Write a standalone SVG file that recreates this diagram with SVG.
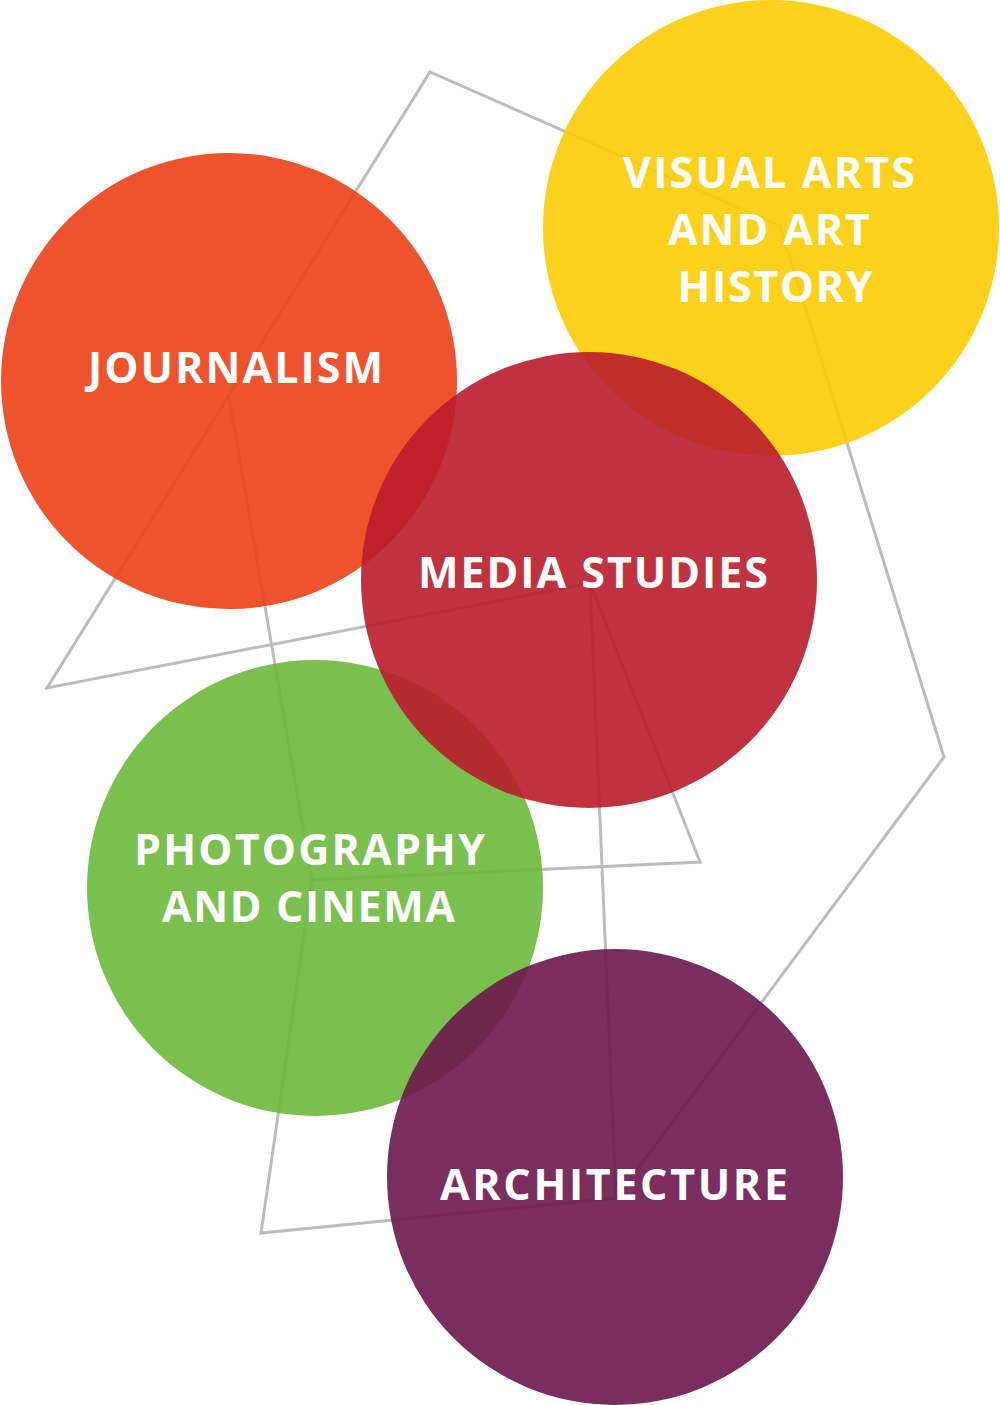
<svg xmlns="http://www.w3.org/2000/svg" width="1000" height="1405" viewBox="0 0 1000 1405">
<style>
.c{fill-opacity:0.9}
.t{font-family:"Open Sans","Liberation Sans",sans-serif;font-weight:700;font-size:43px;fill:#ffffff;text-anchor:middle}
.ln{fill:none;stroke:#bcbcbc;stroke-width:3;stroke-linejoin:miter}
</style>
<rect width="1000" height="1405" fill="#ffffff"/>
<g id="connectors">
<polygon class="ln" points="430,72 780,226 944,757 616,1198 261,1233 312,880 700,862 590,583 47,688"/>
<line class="ln" x1="590" y1="583" x2="616" y2="1198"/>
<line class="ln" x1="229" y1="397" x2="312" y2="880"/>
</g>
<g id="visual-arts">
<circle class="c" cx="771" cy="228" r="228" fill="#fccc03"/>
<text class="t" x="769" y="188" textLength="292" lengthAdjust="spacing">VISUAL ARTS</text>
<text class="t" x="769" y="245" textLength="202" lengthAdjust="spacing">AND ART</text>
<text class="t" x="775" y="302" textLength="195" lengthAdjust="spacing">HISTORY</text>
</g>
<g id="journalism">
<circle class="c" cx="229" cy="381" r="228" fill="#ec4017"/>
<text class="t" x="235.5" y="383" textLength="295" lengthAdjust="spacing">JOURNALISM</text>
</g>
<g id="photography">
<circle class="c" cx="315" cy="888" r="228" fill="#6cb93b"/>
<text class="t" x="309.5" y="865" textLength="351" lengthAdjust="spacing">PHOTOGRAPHY</text>
<text class="t" x="308.5" y="922" textLength="293" lengthAdjust="spacing">AND CINEMA</text>
</g>
<g id="media-studies">
<circle class="c" cx="589" cy="580" r="228" fill="#ba1c2c"/>
<text class="t" x="593" y="588" textLength="350" lengthAdjust="spacing">MEDIA STUDIES</text>
</g>
<g id="architecture">
<circle class="c" cx="615" cy="1177" r="228" fill="#6c174c"/>
<text class="t" x="614" y="1200" textLength="348" lengthAdjust="spacing">ARCHITECTURE</text>
</g>
</svg>
